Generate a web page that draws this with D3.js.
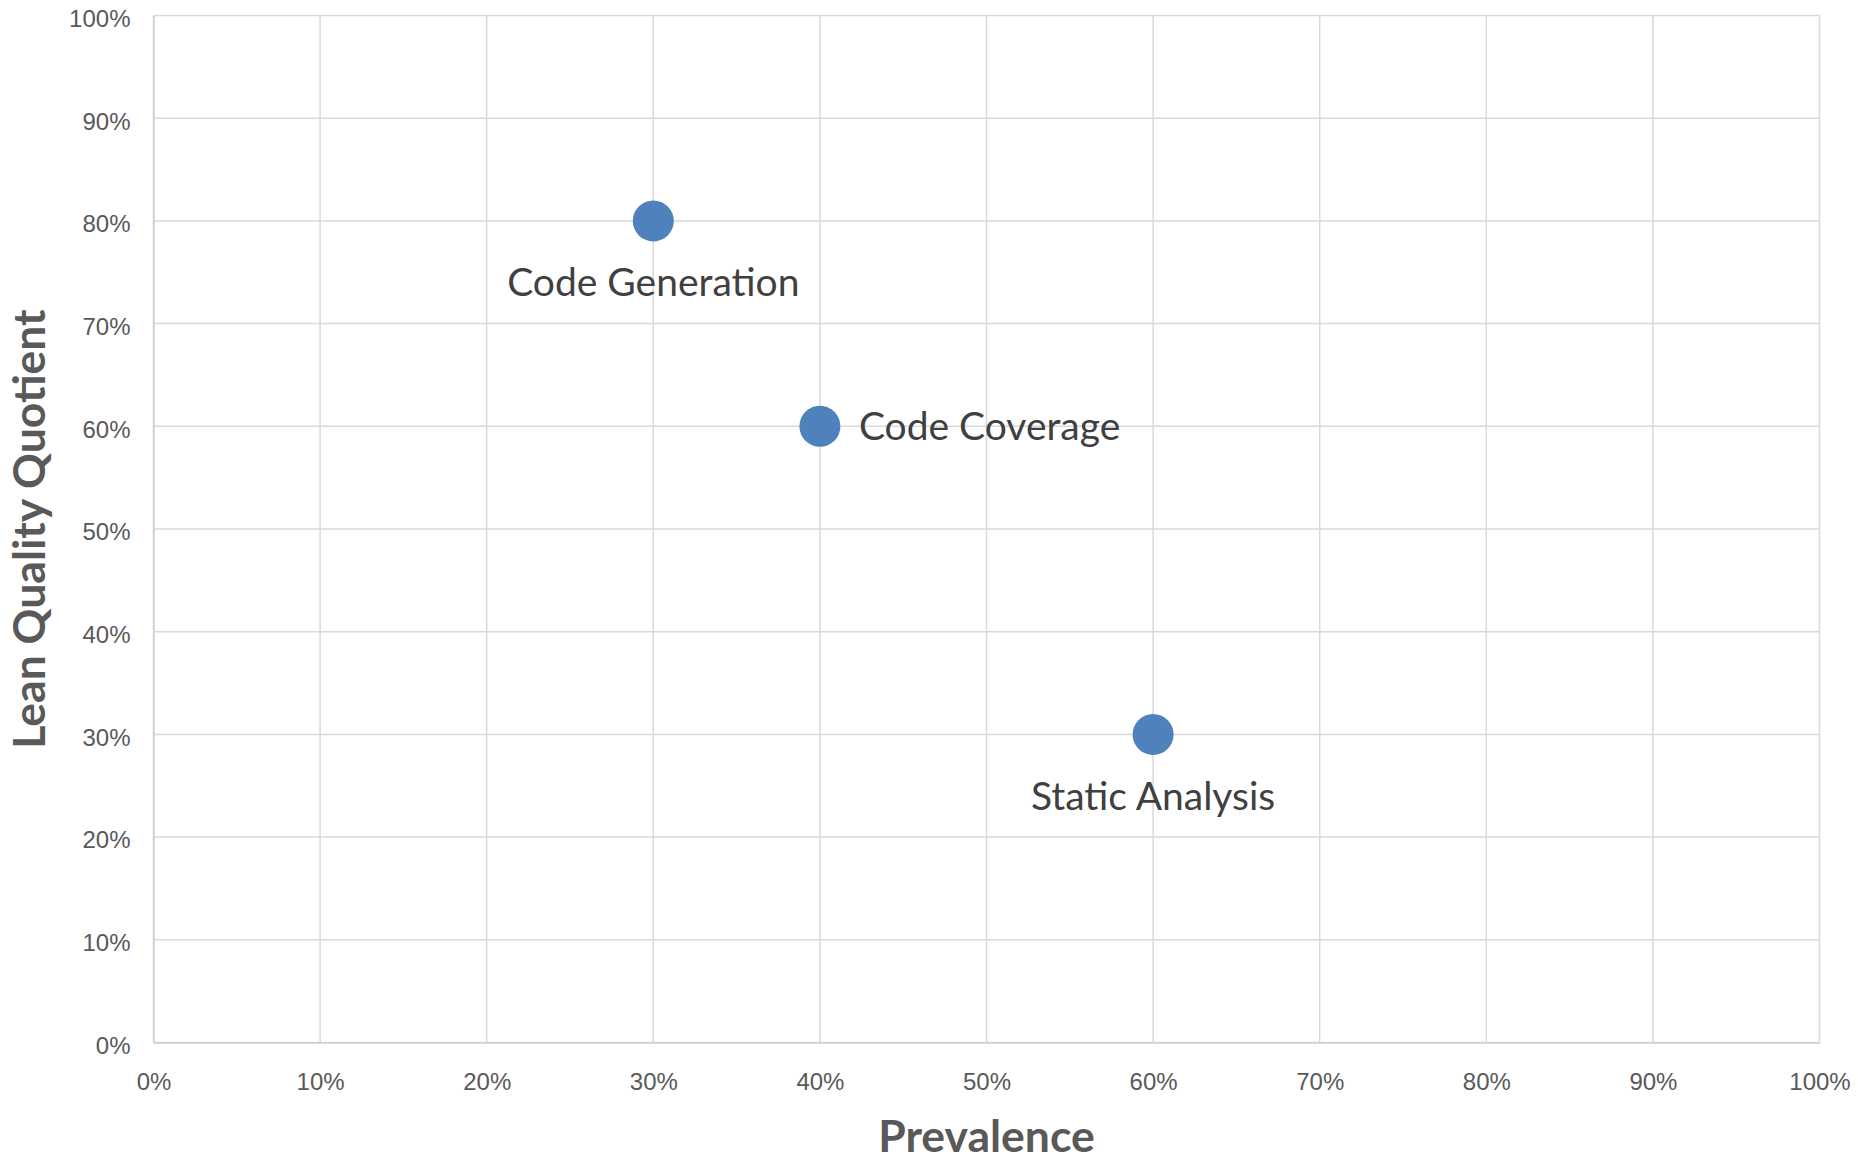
<!DOCTYPE html>
<html>
<head>
<meta charset="utf-8">
<script src="https://cdn.jsdelivr.net/npm/d3@7"></script>
<style>
  html, body { margin: 0; padding: 0; background: #fff; }
  svg { display: block; }
</style>
</head>
<body>
<svg id="chart" width="1858" height="1160"></svg>
<script>
// Practices plotted by how common they are vs. their lean quality score
const practices = ["Code Generation", "Code Coverage", "Static Analysis"];
const prevalence = [0.30, 0.40, 0.60];
const leanQuality = [0.80, 0.60, 0.30];
const labelSide = ["below", "right", "below"];
const tickValues = [0, 0.1, 0.2, 0.3, 0.4, 0.5, 0.6, 0.7, 0.8, 0.9, 1.0];

const W = 1858, H = 1160;
const margin = { left: 153.5, right: W - 1819.5, top: 15.5, bottom: H - 1042.5 };
const innerW = W - margin.left - margin.right;
const innerH = H - margin.top - margin.bottom;

const svg = d3.select("#chart");
const g = svg.append("g").attr("transform", `translate(${margin.left},${margin.top})`);

const x = d3.scaleLinear().domain([0, 1]).range([0, innerW]);
const y = d3.scaleLinear().domain([0, 1]).range([innerH, 0]);
const pct = d3.format(".0%");

// gridlines
g.append("g").selectAll("line.vgrid").data(tickValues).join("line")
  .attr("x1", d => x(d)).attr("x2", d => x(d))
  .attr("y1", 0).attr("y2", innerH)
  .attr("stroke", "#d9d9d9").attr("stroke-width", 1.5);
g.append("g").selectAll("line.hgrid").data(tickValues).join("line")
  .attr("x1", 0).attr("x2", innerW)
  .attr("y1", d => y(d)).attr("y2", d => y(d))
  .attr("stroke", "#d9d9d9").attr("stroke-width", 1.5);

// axes
const xAxis = g.append("g")
  .attr("transform", `translate(0,${innerH})`)
  .call(d3.axisBottom(x).tickValues(tickValues).tickFormat(pct).tickSize(0).tickPadding(30));
const yAxis = g.append("g")
  .call(d3.axisLeft(y).tickValues(tickValues).tickFormat(pct).tickSize(0).tickPadding(23));

[xAxis, yAxis].forEach(a => {
  a.select(".domain").attr("stroke", "#cfcfcf").attr("stroke-width", 1.5);
  a.selectAll("text")
    .attr("font-family", "'Liberation Sans', Arial, sans-serif")
    .attr("font-size", 24)
    .attr("fill", "#595959");
});
yAxis.selectAll("text").attr("dy", "0.45em");

// axis titles
svg.append("text")
  .attr("x", margin.left + innerW / 2)
  .attr("y", 1152)
  .attr("text-anchor", "middle")
  .attr("font-family", "Lato, 'Open Sans', sans-serif")
  .attr("font-weight", "bold")
  .attr("font-size", 44.5)
  .attr("fill", "#595959")
  .text("Prevalence");

svg.append("text")
  .attr("transform", `translate(45,${margin.top + innerH / 2}) rotate(-90)`)
  .attr("text-anchor", "middle")
  .attr("font-family", "Lato, 'Open Sans', sans-serif")
  .attr("font-weight", "bold")
  .attr("font-size", 44.5)
  .attr("fill", "#595959")
  .text("Lean Quality Quotient");

// points
const data = practices.map((name, i) => ({
  name, px: prevalence[i], q: leanQuality[i], side: labelSide[i]
}));

g.append("g").selectAll("circle").data(data).join("circle")
  .attr("cx", d => x(d.px))
  .attr("cy", d => y(d.q))
  .attr("r", 20.5)
  .attr("fill", "#4f81bd");

// data labels
g.append("g").selectAll("text").data(data).join("text")
  .attr("x", d => d.side === "right" ? x(d.px) + 39 : x(d.px))
  .attr("y", d => d.side === "right" ? y(d.q) + 14 : y(d.q) + 75.5)
  .attr("text-anchor", d => d.side === "right" ? "start" : "middle")
  .attr("font-family", "Lato, 'Open Sans', sans-serif")
  .attr("font-size", 39)
  .attr("fill", "#404040")
  .text(d => d.name);
</script>
</body>
</html>
